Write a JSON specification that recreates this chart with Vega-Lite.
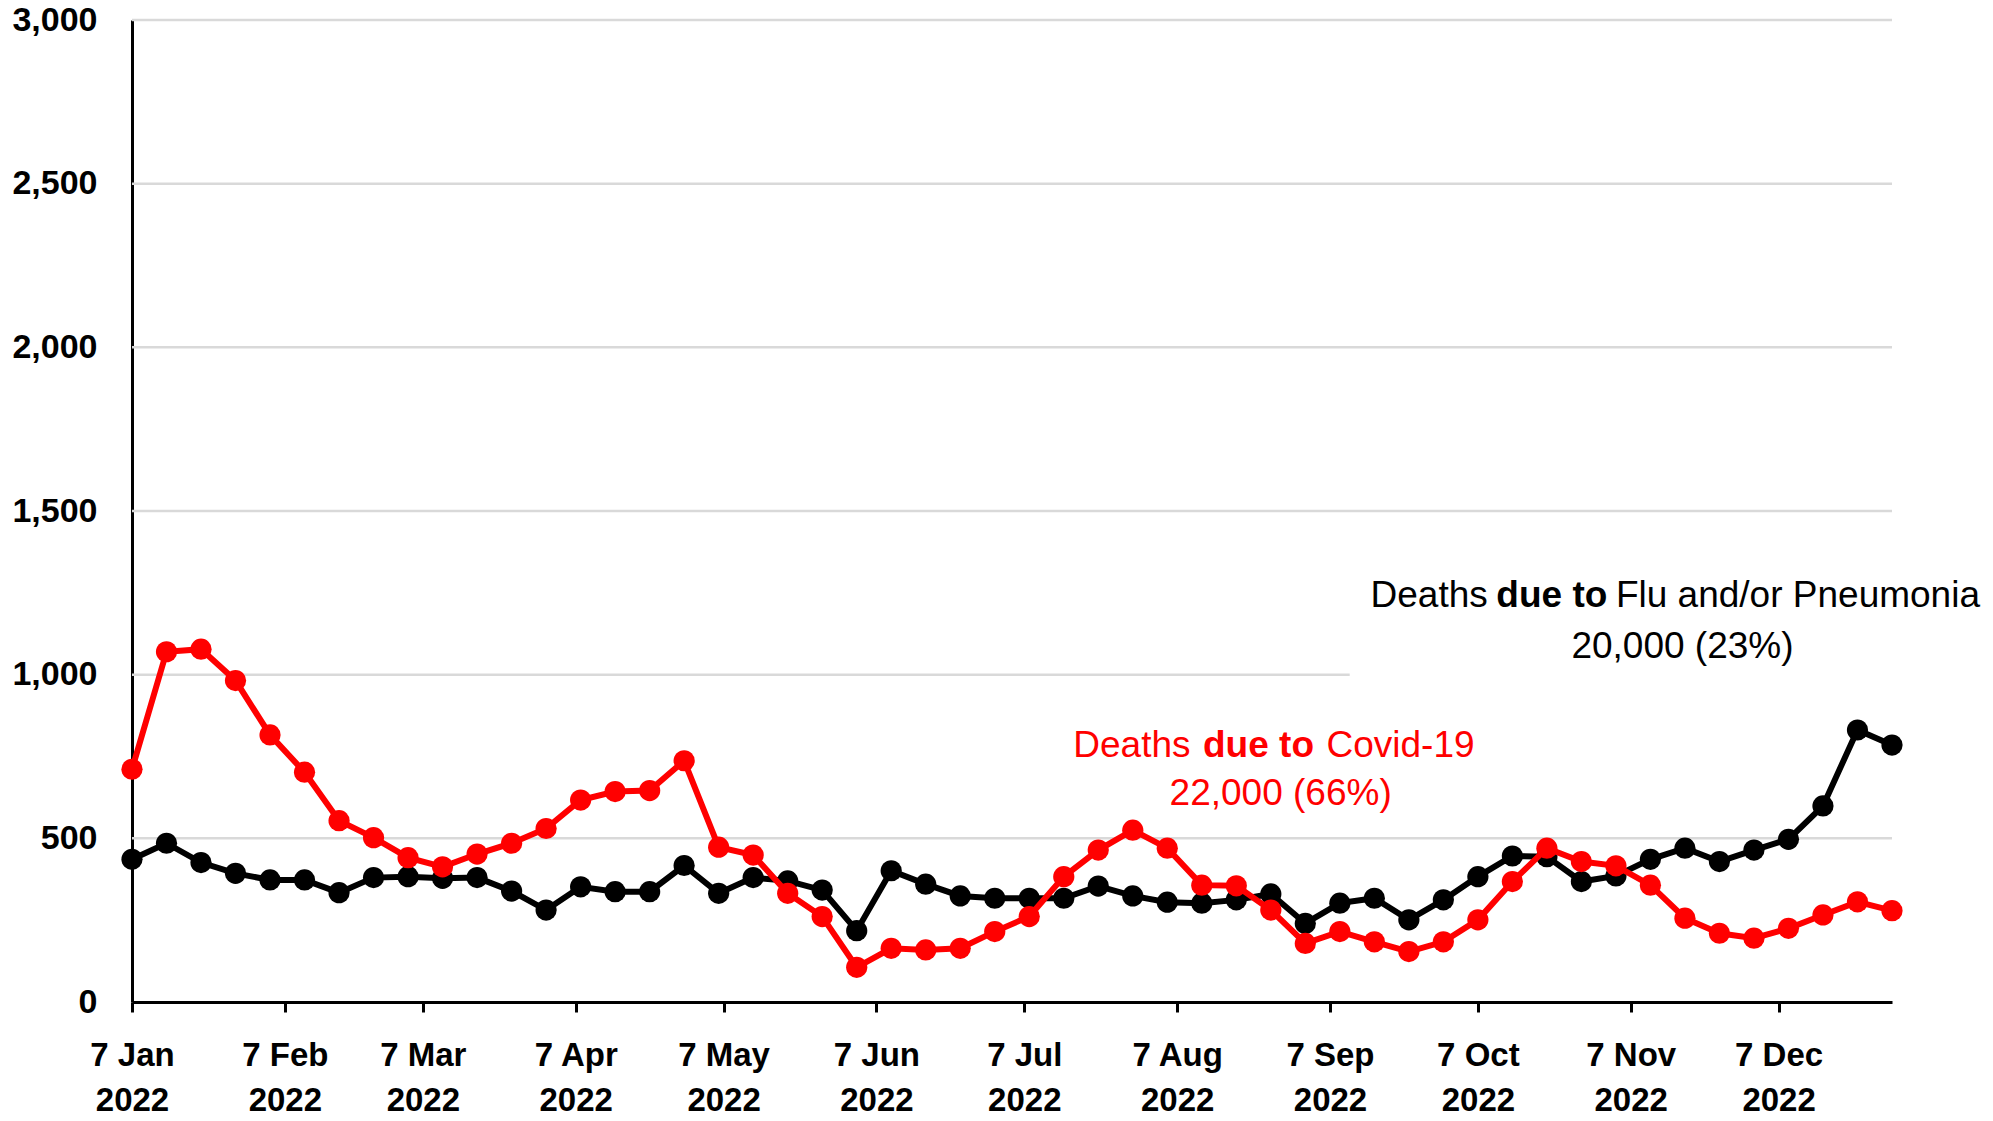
{
  "$schema": "https://vega.github.io/schema/vega-lite/v6.json",
  "autosize": "none",
  "width": 1760,
  "height": 982,
  "padding": {"left": 132, "top": 20, "right": 101, "bottom": 119},
  "background": "white",
  "config": {"view": {"stroke": null}},
  "datasets": {
    "deaths": [
      {"date": "2022-01-07", "series": "Covid-19", "value": 711},
      {"date": "2022-01-14", "series": "Covid-19", "value": 1070},
      {"date": "2022-01-21", "series": "Covid-19", "value": 1078},
      {"date": "2022-01-28", "series": "Covid-19", "value": 982},
      {"date": "2022-02-04", "series": "Covid-19", "value": 816},
      {"date": "2022-02-11", "series": "Covid-19", "value": 702},
      {"date": "2022-02-18", "series": "Covid-19", "value": 554},
      {"date": "2022-02-25", "series": "Covid-19", "value": 502},
      {"date": "2022-03-04", "series": "Covid-19", "value": 441},
      {"date": "2022-03-11", "series": "Covid-19", "value": 413},
      {"date": "2022-03-18", "series": "Covid-19", "value": 452},
      {"date": "2022-03-25", "series": "Covid-19", "value": 485},
      {"date": "2022-04-01", "series": "Covid-19", "value": 530},
      {"date": "2022-04-08", "series": "Covid-19", "value": 617},
      {"date": "2022-04-15", "series": "Covid-19", "value": 643},
      {"date": "2022-04-22", "series": "Covid-19", "value": 646},
      {"date": "2022-04-29", "series": "Covid-19", "value": 737},
      {"date": "2022-05-06", "series": "Covid-19", "value": 473},
      {"date": "2022-05-13", "series": "Covid-19", "value": 449},
      {"date": "2022-05-20", "series": "Covid-19", "value": 332},
      {"date": "2022-05-27", "series": "Covid-19", "value": 261},
      {"date": "2022-06-03", "series": "Covid-19", "value": 106},
      {"date": "2022-06-10", "series": "Covid-19", "value": 164},
      {"date": "2022-06-17", "series": "Covid-19", "value": 159},
      {"date": "2022-06-24", "series": "Covid-19", "value": 164},
      {"date": "2022-07-01", "series": "Covid-19", "value": 215},
      {"date": "2022-07-08", "series": "Covid-19", "value": 261},
      {"date": "2022-07-15", "series": "Covid-19", "value": 383},
      {"date": "2022-07-22", "series": "Covid-19", "value": 464},
      {"date": "2022-07-29", "series": "Covid-19", "value": 525},
      {"date": "2022-08-05", "series": "Covid-19", "value": 470},
      {"date": "2022-08-12", "series": "Covid-19", "value": 357},
      {"date": "2022-08-19", "series": "Covid-19", "value": 355},
      {"date": "2022-08-26", "series": "Covid-19", "value": 281},
      {"date": "2022-09-02", "series": "Covid-19", "value": 179},
      {"date": "2022-09-09", "series": "Covid-19", "value": 215},
      {"date": "2022-09-16", "series": "Covid-19", "value": 184},
      {"date": "2022-09-23", "series": "Covid-19", "value": 154},
      {"date": "2022-09-30", "series": "Covid-19", "value": 184},
      {"date": "2022-10-07", "series": "Covid-19", "value": 251},
      {"date": "2022-10-14", "series": "Covid-19", "value": 368},
      {"date": "2022-10-21", "series": "Covid-19", "value": 470},
      {"date": "2022-10-28", "series": "Covid-19", "value": 429},
      {"date": "2022-11-04", "series": "Covid-19", "value": 416},
      {"date": "2022-11-11", "series": "Covid-19", "value": 357},
      {"date": "2022-11-18", "series": "Covid-19", "value": 256},
      {"date": "2022-11-25", "series": "Covid-19", "value": 210},
      {"date": "2022-12-02", "series": "Covid-19", "value": 195},
      {"date": "2022-12-09", "series": "Covid-19", "value": 225},
      {"date": "2022-12-16", "series": "Covid-19", "value": 266},
      {"date": "2022-12-23", "series": "Covid-19", "value": 306},
      {"date": "2022-12-30", "series": "Covid-19", "value": 279},
      {"date": "2022-01-07", "series": "Flu and/or Pneumonia", "value": 436},
      {"date": "2022-01-14", "series": "Flu and/or Pneumonia", "value": 485},
      {"date": "2022-01-21", "series": "Flu and/or Pneumonia", "value": 426},
      {"date": "2022-01-28", "series": "Flu and/or Pneumonia", "value": 393},
      {"date": "2022-02-04", "series": "Flu and/or Pneumonia", "value": 373},
      {"date": "2022-02-11", "series": "Flu and/or Pneumonia", "value": 373},
      {"date": "2022-02-18", "series": "Flu and/or Pneumonia", "value": 334},
      {"date": "2022-02-25", "series": "Flu and/or Pneumonia", "value": 380},
      {"date": "2022-03-04", "series": "Flu and/or Pneumonia", "value": 383},
      {"date": "2022-03-11", "series": "Flu and/or Pneumonia", "value": 378},
      {"date": "2022-03-18", "series": "Flu and/or Pneumonia", "value": 380},
      {"date": "2022-03-25", "series": "Flu and/or Pneumonia", "value": 339},
      {"date": "2022-04-01", "series": "Flu and/or Pneumonia", "value": 281},
      {"date": "2022-04-08", "series": "Flu and/or Pneumonia", "value": 352},
      {"date": "2022-04-15", "series": "Flu and/or Pneumonia", "value": 337},
      {"date": "2022-04-22", "series": "Flu and/or Pneumonia", "value": 337},
      {"date": "2022-04-29", "series": "Flu and/or Pneumonia", "value": 417},
      {"date": "2022-05-06", "series": "Flu and/or Pneumonia", "value": 332},
      {"date": "2022-05-13", "series": "Flu and/or Pneumonia", "value": 380},
      {"date": "2022-05-20", "series": "Flu and/or Pneumonia", "value": 370},
      {"date": "2022-05-27", "series": "Flu and/or Pneumonia", "value": 342},
      {"date": "2022-06-03", "series": "Flu and/or Pneumonia", "value": 218},
      {"date": "2022-06-10", "series": "Flu and/or Pneumonia", "value": 401},
      {"date": "2022-06-17", "series": "Flu and/or Pneumonia", "value": 360},
      {"date": "2022-06-24", "series": "Flu and/or Pneumonia", "value": 324},
      {"date": "2022-07-01", "series": "Flu and/or Pneumonia", "value": 317},
      {"date": "2022-07-08", "series": "Flu and/or Pneumonia", "value": 317},
      {"date": "2022-07-15", "series": "Flu and/or Pneumonia", "value": 317},
      {"date": "2022-07-22", "series": "Flu and/or Pneumonia", "value": 354},
      {"date": "2022-07-29", "series": "Flu and/or Pneumonia", "value": 324},
      {"date": "2022-08-05", "series": "Flu and/or Pneumonia", "value": 305},
      {"date": "2022-08-12", "series": "Flu and/or Pneumonia", "value": 302},
      {"date": "2022-08-19", "series": "Flu and/or Pneumonia", "value": 312},
      {"date": "2022-08-26", "series": "Flu and/or Pneumonia", "value": 330},
      {"date": "2022-09-02", "series": "Flu and/or Pneumonia", "value": 240},
      {"date": "2022-09-09", "series": "Flu and/or Pneumonia", "value": 302},
      {"date": "2022-09-16", "series": "Flu and/or Pneumonia", "value": 317},
      {"date": "2022-09-23", "series": "Flu and/or Pneumonia", "value": 251},
      {"date": "2022-09-30", "series": "Flu and/or Pneumonia", "value": 312},
      {"date": "2022-10-07", "series": "Flu and/or Pneumonia", "value": 383},
      {"date": "2022-10-14", "series": "Flu and/or Pneumonia", "value": 446},
      {"date": "2022-10-21", "series": "Flu and/or Pneumonia", "value": 444},
      {"date": "2022-10-28", "series": "Flu and/or Pneumonia", "value": 368},
      {"date": "2022-11-04", "series": "Flu and/or Pneumonia", "value": 385},
      {"date": "2022-11-11", "series": "Flu and/or Pneumonia", "value": 436},
      {"date": "2022-11-18", "series": "Flu and/or Pneumonia", "value": 470},
      {"date": "2022-11-25", "series": "Flu and/or Pneumonia", "value": 429},
      {"date": "2022-12-02", "series": "Flu and/or Pneumonia", "value": 464},
      {"date": "2022-12-09", "series": "Flu and/or Pneumonia", "value": 497},
      {"date": "2022-12-16", "series": "Flu and/or Pneumonia", "value": 599},
      {"date": "2022-12-23", "series": "Flu and/or Pneumonia", "value": 831},
      {"date": "2022-12-30", "series": "Flu and/or Pneumonia", "value": 785}
    ],
    "grid": [
      {"value": 500, "date": "2022-01-07", "date2": "2022-12-30"},
      {"value": 1000, "date": "2022-01-07", "date2": "2022-09-11"},
      {"value": 1500, "date": "2022-01-07", "date2": "2022-12-30"},
      {"value": 2000, "date": "2022-01-07", "date2": "2022-12-30"},
      {"value": 2500, "date": "2022-01-07", "date2": "2022-12-30"},
      {"value": 3000, "date": "2022-01-07", "date2": "2022-12-30"}
    ]
  },
  "encoding": {
    "x": {
      "field": "date",
      "type": "temporal",
      "title": null,
      "scale": {"type": "utc", "domain": [{"year": 2022, "month": 1, "date": 7, "utc": true}, {"year": 2022, "month": 12, "date": 30, "utc": true}]},
      "axis": {
        "values": [
          {"year": 2022, "month": 1, "date": 7, "utc": true},
          {"year": 2022, "month": 2, "date": 7, "utc": true},
          {"year": 2022, "month": 3, "date": 7, "utc": true},
          {"year": 2022, "month": 4, "date": 7, "utc": true},
          {"year": 2022, "month": 5, "date": 7, "utc": true},
          {"year": 2022, "month": 6, "date": 7, "utc": true},
          {"year": 2022, "month": 7, "date": 7, "utc": true},
          {"year": 2022, "month": 8, "date": 7, "utc": true},
          {"year": 2022, "month": 9, "date": 7, "utc": true},
          {"year": 2022, "month": 10, "date": 7, "utc": true},
          {"year": 2022, "month": 11, "date": 7, "utc": true},
          {"year": 2022, "month": 12, "date": 7, "utc": true}
        ],
        "labelExpr": "[utcFormat(datum.value, '%-d %b'), utcFormat(datum.value, '%Y')]",
        "grid": false,
        "domainColor": "#000000",
        "domainWidth": 3,
        "tickColor": "#000000",
        "tickWidth": 3,
        "tickSize": 10,
        "labelFont": "Liberation Sans",
        "labelFontWeight": "bold",
        "labelFontSize": 33,
        "labelColor": "#000000",
        "labelLineHeight": 45,
        "labelPadding": 27,
        "labelAngle": 0,
        "labelOverlap": false,
        "labelFlush": false
      }
    },
    "y": {
      "field": "value",
      "type": "quantitative",
      "title": null,
      "scale": {"domain": [0, 3000], "nice": false, "zero": true},
      "axis": {
        "values": [0, 500, 1000, 1500, 2000, 2500, 3000],
        "format": ",.0f",
        "grid": false,
        "ticks": false,
        "domainColor": "#000000",
        "domainWidth": 3,
        "labelFont": "Liberation Sans",
        "labelFontWeight": "bold",
        "labelFontSize": 34,
        "labelColor": "#000000",
        "labelPadding": 35,
        "labelOverlap": false,
        "labelFlush": false
      }
    }
  },
  "layer": [
    {
      "data": {"name": "grid"},
      "mark": {"type": "rule", "color": "#d9d9d9", "strokeWidth": 2.5},
      "encoding": {"x2": {"field": "date2"}}
    },
    {
      "data": {"name": "deaths"},
      "transform": [{"filter": "datum.series === 'Flu and/or Pneumonia'"}],
      "mark": {"type": "line", "color": "#000000", "strokeWidth": 6}
    },
    {
      "data": {"name": "deaths"},
      "transform": [{"filter": "datum.series === 'Flu and/or Pneumonia'"}],
      "mark": {"type": "point", "filled": true, "opacity": 1, "color": "#000000", "size": 450, "shape": "circle"}
    },
    {
      "data": {"name": "deaths"},
      "transform": [{"filter": "datum.series === 'Covid-19'"}],
      "mark": {"type": "line", "color": "#ff0000", "strokeWidth": 6}
    },
    {
      "data": {"name": "deaths"},
      "transform": [{"filter": "datum.series === 'Covid-19'"}],
      "mark": {"type": "point", "filled": true, "opacity": 1, "color": "#ff0000", "size": 450, "shape": "circle"}
    },
    {
      "data": {"values": [{"label": "Deaths", "date": "2022-10-09T00:00:00Z", "value": 1240}]},
      "mark": {"type": "text", "align": "right", "baseline": "middle", "font": "Liberation Sans", "fontSize": 37, "color": "#000000"},
      "encoding": {"text": {"field": "label"}}
    },
    {
      "data": {"values": [{"label": "due to", "date": "2022-10-22T00:00:00Z", "value": 1240}]},
      "mark": {"type": "text", "align": "center", "baseline": "middle", "font": "Liberation Sans", "fontWeight": "bold", "fontSize": 37, "color": "#000000"},
      "encoding": {"text": {"field": "label"}}
    },
    {
      "data": {"values": [{"label": "Flu and/or Pneumonia", "date": "2022-11-04T00:00:00Z", "value": 1240}]},
      "mark": {"type": "text", "align": "left", "baseline": "middle", "font": "Liberation Sans", "fontSize": 37, "color": "#000000"},
      "encoding": {"text": {"field": "label"}}
    },
    {
      "data": {"values": [{"label": "20,000 (23%)", "date": "2022-11-17T12:00:00Z", "value": 1085}]},
      "mark": {"type": "text", "align": "center", "baseline": "middle", "font": "Liberation Sans", "fontSize": 37, "color": "#000000"},
      "encoding": {"text": {"field": "label"}}
    },
    {
      "data": {"values": [{"label": "Deaths", "date": "2022-08-09T17:00:00Z", "value": 782}]},
      "mark": {"type": "text", "align": "right", "baseline": "middle", "font": "Liberation Sans", "fontSize": 37, "color": "#ff0000"},
      "encoding": {"text": {"field": "label"}}
    },
    {
      "data": {"values": [{"label": "due to", "date": "2022-08-23T12:00:00Z", "value": 782}]},
      "mark": {"type": "text", "align": "center", "baseline": "middle", "font": "Liberation Sans", "fontWeight": "bold", "fontSize": 37, "color": "#ff0000"},
      "encoding": {"text": {"field": "label"}}
    },
    {
      "data": {"values": [{"label": "Covid-19", "date": "2022-09-06T07:00:00Z", "value": 782}]},
      "mark": {"type": "text", "align": "left", "baseline": "middle", "font": "Liberation Sans", "fontSize": 37, "color": "#ff0000"},
      "encoding": {"text": {"field": "label"}}
    },
    {
      "data": {"values": [{"label": "22,000 (66%)", "date": "2022-08-28T00:00:00Z", "value": 636}]},
      "mark": {"type": "text", "align": "center", "baseline": "middle", "font": "Liberation Sans", "fontSize": 37, "color": "#ff0000"},
      "encoding": {"text": {"field": "label"}}
    }
  ]
}
